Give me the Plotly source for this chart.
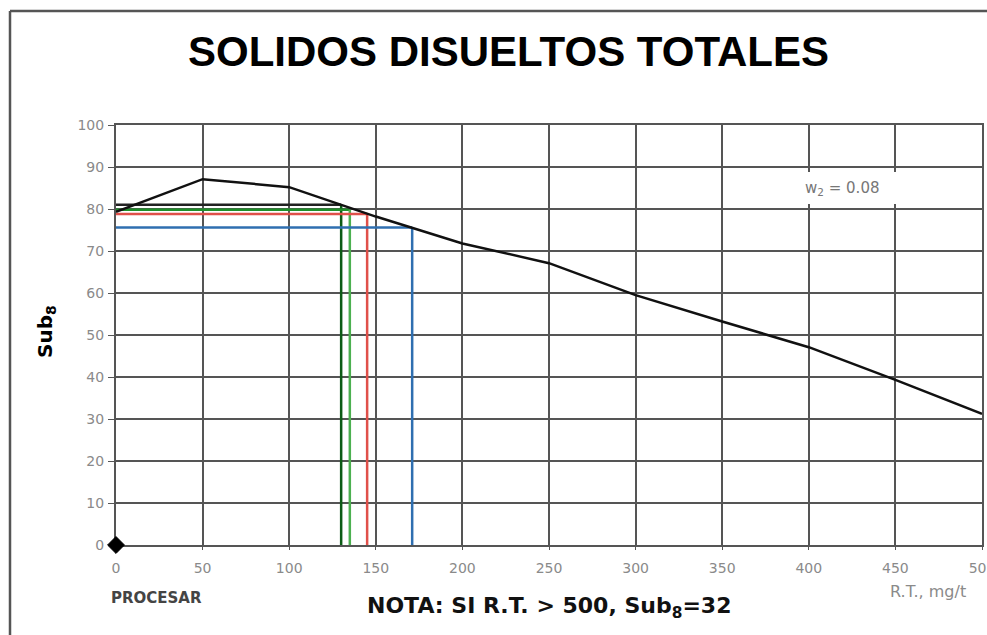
import plotly.graph_objects as go

# Curva Sub8 vs residuo total (R.T., mg/t)
rt = [0, 50, 100, 150, 200, 250, 300, 350, 400, 450, 500]
sub8 = [79.3, 87.1, 85.2, 78.2, 71.8, 67.1, 59.5, 53.2, 47.1, 39.3, 31.2]

# Lecturas marcadas sobre la curva
read_rt = [130, 135, 145, 171]
read_sub = [81.0, 79.8, 78.8, 75.6]
read_hcolor = ["#222222", "#1f8f2a", "#e0504a", "#2f6fb0"]
read_vcolor = ["#0d5c16", "#4cb050", "#e0504a", "#2f6fb0"]

x_ticks = [0, 50, 100, 150, 200, 250, 300, 350, 400, 450, 500]
y_ticks = [0, 10, 20, 30, 40, 50, 60, 70, 80, 90, 100]

W, H = 987, 635
L, R, T, B = 116, 5, 125, 90
PW, PH = W - L - R, H - T - B


def px(xp):
    return (xp - L) / PW


def py(yp):
    return (H - B - yp) / PH


fig = go.Figure()

for x, y, hc, vc in zip(read_rt, read_sub, read_hcolor, read_vcolor):
    fig.add_trace(go.Scatter(x=[0, x], y=[y, y], mode="lines",
                             line=dict(color=hc, width=2.5), hoverinfo="skip"))
    fig.add_trace(go.Scatter(x=[x, x], y=[y, 0], mode="lines",
                             line=dict(color=vc, width=2.5), hoverinfo="skip"))

fig.add_trace(go.Scatter(x=rt, y=sub8, mode="lines",
                         line=dict(color="#111111", width=2.5)))

fig.add_trace(go.Scatter(x=[0], y=[0], mode="markers", cliponaxis=False,
                         marker=dict(symbol="diamond", size=13, color="#000000",
                                     line=dict(width=1, color="#000000"))))

axis_common = dict(
    showgrid=True, gridcolor="#555555", gridwidth=1.7,
    showline=True, linecolor="#555555", linewidth=2, mirror=True,
    zeroline=False, automargin=False, layer="below traces",
    tickfont=dict(family="DejaVu Sans", size=14, color="#8a8a8a"),
    ticklabeloverflow="allow",
)

fig.update_xaxes(range=[0, 500], tickvals=x_ticks, ticks="outside", ticklen=3,
                 tickcolor="#555555", ticklabelstandoff=6, **axis_common)
fig.update_yaxes(range=[0, 100], tickvals=y_ticks, ticks="outside", ticklen=6,
                 tickcolor="#555555", ticklabelstandoff=1, **axis_common)

shapes = [
    # recuadro blanco bajo la etiqueta w2
    dict(type="rect", xref="x", yref="y", x0=385, x1=462, y0=81.2, y1=88.8,
         fillcolor="white", line=dict(width=0), layer="between"),
    # marco exterior
    dict(type="line", xref="paper", yref="paper", x0=px(10), x1=px(990),
         y0=py(11), y1=py(11), line=dict(color="#555555", width=2.5)),
    dict(type="line", xref="paper", yref="paper", x0=px(10), x1=px(10),
         y0=py(11), y1=py(640), line=dict(color="#555555", width=2.5)),
]

annotations = [
    dict(text="<b>SOLIDOS DISUELTOS TOTALES</b>", x=px(508), y=py(52),
         font=dict(family="Liberation Sans", size=42, color="#000000")),
    dict(text="<b>Sub<sub>8</sub></b>", x=px(46), y=py(332), textangle=-90,
         font=dict(family="DejaVu Sans", size=20, color="#000000")),
    dict(text="w<sub>2</sub> = 0.08", x=419, y=84.8, xref="x", yref="y",
         font=dict(family="DejaVu Sans", size=15, color="#777777")),
    dict(text="R.T., mg/t", x=px(928), y=py(591),
         font=dict(family="DejaVu Sans", size=16, color="#8a8a8a")),
    dict(text="<b>PROCESAR</b>", x=px(156), y=py(598),
         font=dict(family="DejaVu Sans", size=15, color="#444444")),
    dict(text="<b>NOTA: SI R.T. &gt; 500, Sub<sub>8</sub>=32</b>", x=px(549), y=py(607),
         font=dict(family="DejaVu Sans", size=22, color="#111111")),
]
for a in annotations:
    a.setdefault("xref", "paper")
    a.setdefault("yref", "paper")
    a.update(showarrow=False, xanchor="center", yanchor="middle")

fig.update_layout(
    width=W, height=H, autosize=False,
    margin=dict(l=L, r=R, t=T, b=B, autoexpand=False),
    paper_bgcolor="white", plot_bgcolor="white",
    showlegend=False,
    shapes=shapes, annotations=annotations,
)

fig.write_html("out.html")
